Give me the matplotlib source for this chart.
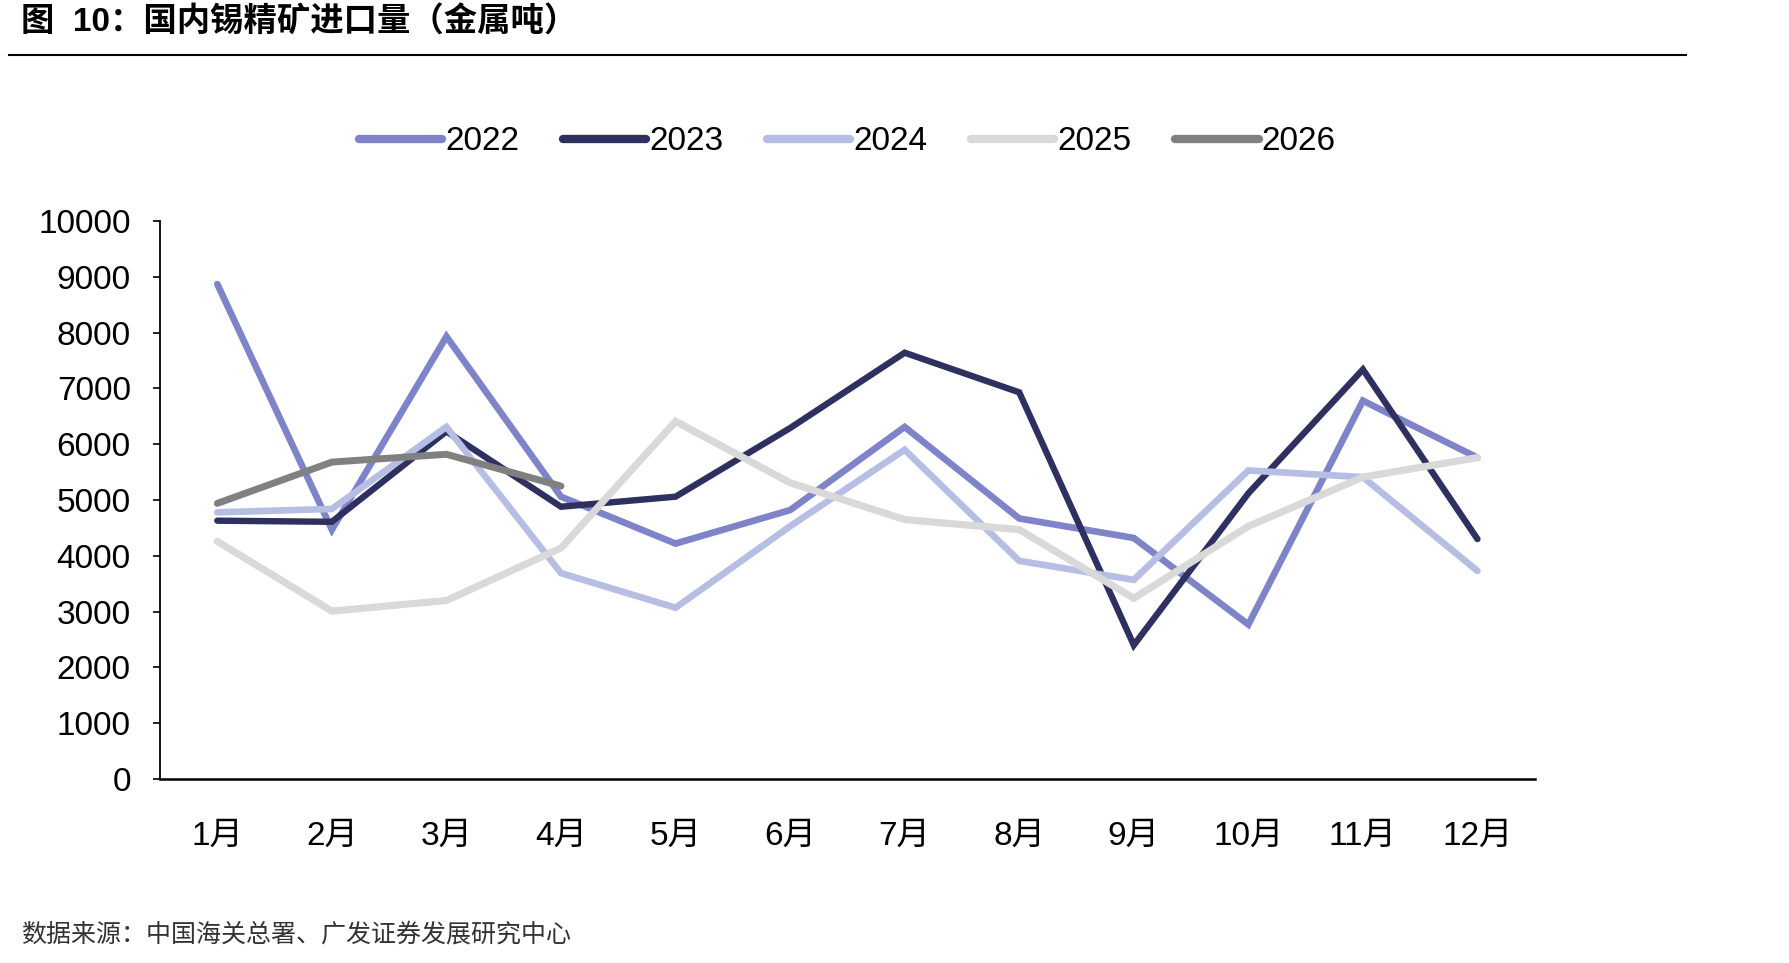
import matplotlib
matplotlib.use("Agg")
import matplotlib.pyplot as plt

plt.rcParams['font.family'] = ['Liberation Sans', 'Noto Sans CJK SC', 'DejaVu Sans']

months = ["1月", "2月", "3月", "4月", "5月", "6月", "7月", "8月", "9月", "10月", "11月", "12月"]
y2022 = [8870, 4470, 7930, 5060, 4220, 4820, 6310, 4670, 4320, 2770, 6780, 5760]
y2023 = [4630, 4610, 6230, 4880, 5060, 6290, 7640, 6930, 2400, 5120, 7340, 4300]
y2024 = [4780, 4840, 6310, 3690, 3070, 4530, 5900, 3910, 3570, 5530, 5410, 3730]
y2025 = [4260, 3010, 3200, 4140, 6410, 5310, 4650, 4470, 3240, 4530, 5410, 5760]
y2026 = [4940, 5680, 5820, 5250]
series_names = ["2022", "2023", "2024", "2025", "2026"]
colors = ["#7F83C8", "#2E3060", "#B6BEE3", "#D9D9D9", "#808080"]

fig = plt.figure(figsize=(17.9, 9.63), dpi=100)
ax = fig.add_axes([0.0894, 0.191, 0.768, 0.5795])

x = list(range(len(months)))
data = [y2022, y2023, y2024, y2025, y2026]
widths = [4.8, 4.6, 4.8, 5.2, 5.0]
for name, vals, c, lw in zip(series_names, data, colors, widths):
    ax.plot(x[:len(vals)], vals, color=c, lw=lw, label=name,
            solid_capstyle='round', solid_joinstyle='miter')

ax.set_xlim(-0.5, 11.5)
ax.set_ylim(0, 10000)
ax.set_yticks(range(0, 10001, 1000))
ax.set_xticks(x)
ax.set_xticklabels(months)
ax.tick_params(axis='y', labelsize=24, length=5, width=1.2, direction='out', pad=16)
ax.tick_params(axis='x', labelsize=24, length=0, pad=30)
for s in ['top', 'right']:
    ax.spines[s].set_visible(False)
ax.spines['left'].set_linewidth(1.3)
ax.spines['bottom'].set_linewidth(1.8)

leg = ax.legend(loc='center', bbox_to_anchor=(0.5, 1.142), ncol=5, frameon=False,
                fontsize=24, handlelength=2.5, handletextpad=0.1, columnspacing=1.3)
for h in leg.get_lines():
    h.set_linewidth(6)

fig.text(0.012, 0.976, "图  10：国内锡精矿进口量（金属吨）", fontsize=24, fontweight='bold',
         va='center', ha='left')
fig.add_artist(plt.Line2D([0.005, 0.942], [0.943, 0.943], color='black', lw=1.5,
                          transform=fig.transFigure))
fig.text(0.012, 0.030, "数据来源：中国海关总署、广发证券发展研究中心", fontsize=18,
         va='center', ha='left', color='#333333')

fig.savefig("out.png", dpi=100)
